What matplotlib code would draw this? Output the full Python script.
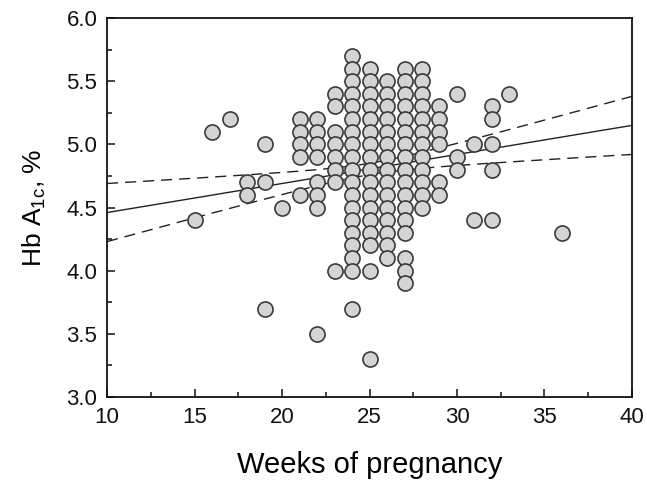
import numpy as np
import matplotlib
matplotlib.use("Agg")
import matplotlib.pyplot as plt
from matplotlib.ticker import MultipleLocator

# --- Data ---
# HbA1c (%) values grouped by week of pregnancy
week_15 = [4.4]
week_16 = [5.1]
week_17 = [5.2]
week_18 = [4.7, 4.6]
week_19 = [5.0, 4.7, 3.7]
week_20 = [4.5]
week_21 = [5.2, 5.1, 5.0, 4.9, 4.6]
week_22 = [5.2, 5.1, 5.0, 4.9, 4.7, 4.6, 4.5, 3.5]
week_23 = [5.4, 5.3, 5.1, 5.0, 4.9, 4.8, 4.7, 4.0]
week_24 = [5.7, 5.6, 5.5, 5.4, 5.3, 5.2, 5.1, 5.0, 4.9, 4.8, 4.7, 4.6,
           4.5, 4.4, 4.3, 4.2, 4.1, 4.0, 3.7]
week_25 = [5.6, 5.5, 5.4, 5.3, 5.2, 5.1, 5.0, 4.9, 4.8, 4.7, 4.6, 4.5,
           4.4, 4.3, 4.2, 4.0, 3.3]
week_26 = [5.5, 5.4, 5.3, 5.2, 5.1, 5.0, 4.9, 4.8, 4.7, 4.6, 4.5, 4.4,
           4.3, 4.2, 4.1]
week_27 = [5.6, 5.5, 5.4, 5.3, 5.2, 5.1, 5.0, 4.9, 4.8, 4.7, 4.6, 4.5,
           4.4, 4.3, 4.1, 4.0, 3.9]
week_28 = [5.6, 5.5, 5.4, 5.3, 5.2, 5.1, 5.0, 4.9, 4.8, 4.7, 4.6, 4.5]
week_29 = [5.3, 5.2, 5.1, 5.0, 4.7, 4.6]
week_30 = [5.4, 4.9, 4.8]
week_31 = [5.0, 4.4]
week_32 = [5.3, 5.2, 5.0, 4.8, 4.4]
week_33 = [5.4]
week_36 = [4.3]

weeks_by_value = {
    15: week_15, 16: week_16, 17: week_17, 18: week_18, 19: week_19,
    20: week_20, 21: week_21, 22: week_22, 23: week_23, 24: week_24,
    25: week_25, 26: week_26, 27: week_27, 28: week_28, 29: week_29,
    30: week_30, 31: week_31, 32: week_32, 33: week_33, 36: week_36,
}

# Regression line and 95% confidence band
fit_intercept_at_10 = 4.46   # HbA1c at week 10
fit_slope = 0.023            # per week
band_centre_week = 25.0
band_halfwidth_centre = 0.045
band_halfwidth_at_10 = 0.23


def main():
    plt.rcParams['font.family'] = ['Liberation Sans', 'DejaVu Sans']
    plt.rcParams['mathtext.fontset'] = 'custom'
    plt.rcParams['mathtext.rm'] = 'Liberation Sans'

    x = []
    y = []
    for wk, vals in weeks_by_value.items():
        for v in vals:
            x.append(wk)
            y.append(v)

    fig = plt.figure(figsize=(6.47, 4.80), dpi=100)
    ax = fig.add_axes([0.1654, 0.1729, 0.8114, 0.7896])

    # fitted line with hyperbolic confidence band
    xs = np.linspace(10, 40, 200)
    line = fit_intercept_at_10 + fit_slope * (xs - 10)
    b = (band_halfwidth_at_10 ** 2 - band_halfwidth_centre ** 2) / (band_centre_week - 10) ** 2
    hw = np.sqrt(band_halfwidth_centre ** 2 + b * (xs - band_centre_week) ** 2)

    ax.plot(xs, line, color='#222222', lw=1.0, zorder=1)
    ax.plot(xs, line + hw, color='#222222', lw=1.0, dashes=(8, 5), zorder=1)
    ax.plot(xs, line - hw, color='#222222', lw=1.0, dashes=(8, 5), zorder=1)

    ax.scatter(x, y, s=118, facecolor='#d4d4d4', edgecolor='#3a3a3a',
               linewidths=1.2, zorder=3, clip_on=False)

    ax.set_xlim(10, 40)
    ax.set_ylim(3.0, 6.0)
    ax.xaxis.set_major_locator(MultipleLocator(5))
    ax.xaxis.set_minor_locator(MultipleLocator(2.5))
    ax.yaxis.set_major_locator(MultipleLocator(0.5))
    ax.yaxis.set_minor_locator(MultipleLocator(0.25))
    ax.yaxis.set_major_formatter(plt.FormatStrFormatter('%.1f'))

    ax.tick_params(which='both', direction='in', top=False, right=False,
                   width=1.1, colors='#111111', labelsize=16)
    ax.tick_params(which='major', length=6, pad=7)
    ax.tick_params(which='minor', length=3.5)
    for sp in ax.spines.values():
        sp.set_linewidth(1.3)
        sp.set_color('#111111')

    ax.set_xlabel('Weeks of pregnancy', fontsize=21, labelpad=17)
    ax.set_ylabel(r'Hb A$_{\mathrm{1c}}$, %', fontsize=19, labelpad=13)

    fig.savefig('out.png', dpi=100)
    plt.close(fig)


if __name__ == "__main__":
    main()
